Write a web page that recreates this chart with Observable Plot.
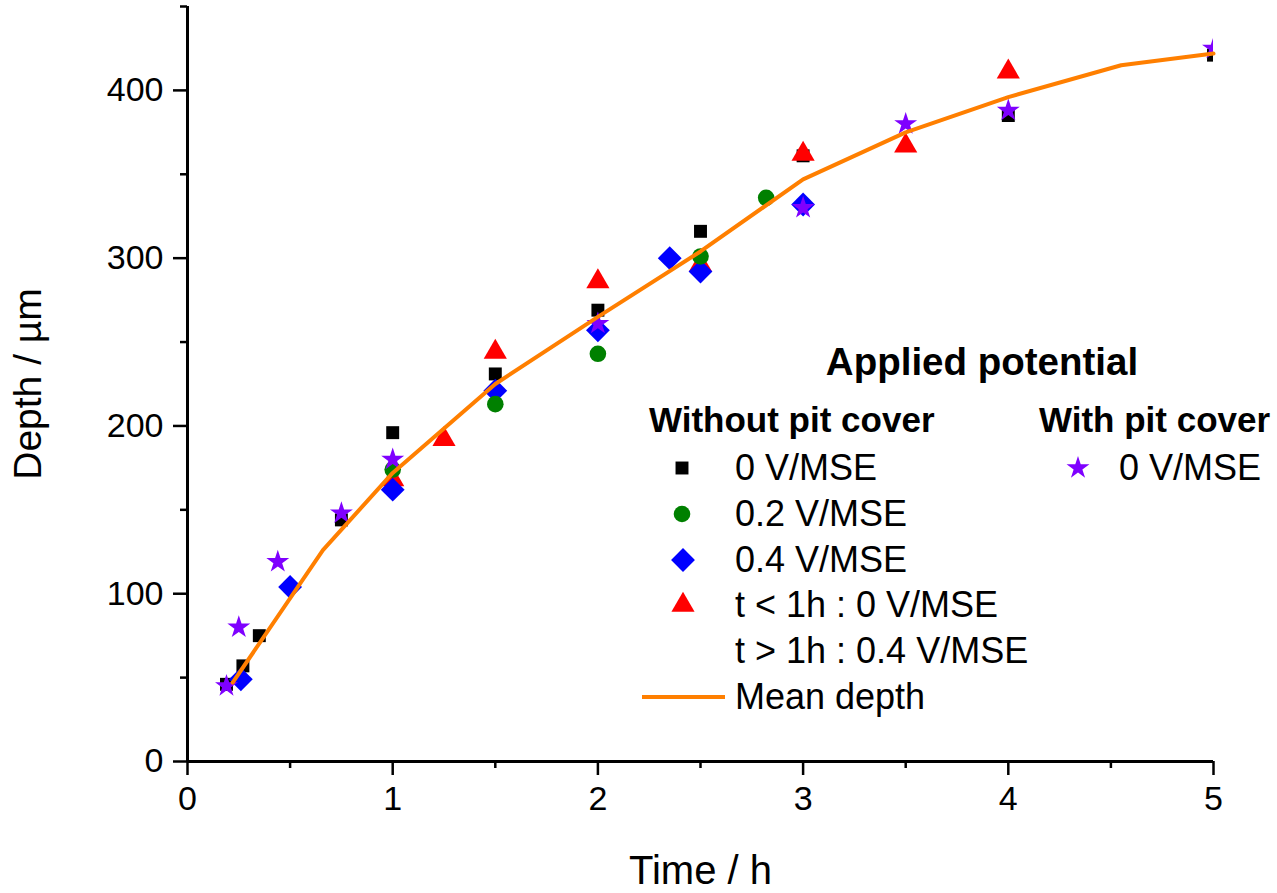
<!DOCTYPE html>
<html>
<head>
<meta charset="utf-8">
<script src="https://cdn.jsdelivr.net/npm/d3@7"></script>
<script src="https://cdn.jsdelivr.net/npm/@observablehq/plot@0.6"></script>
<style>
  html, body { margin: 0; padding: 0; background: #fff; }
  #wrap { position: relative; width: 1277px; height: 893px; font-family: "Liberation Sans", Arial, sans-serif; }
  #legend { position: absolute; left: 0; top: 0; width: 1277px; height: 893px; pointer-events: none; }
  .lg { position: absolute; white-space: nowrap; color: #000; line-height: 1; }
  .lg.b { font-weight: bold; }
  .sym { position: absolute; }
</style>
</head>
<body>
<div id="wrap"><div id="legend"></div></div>
<script>
// ---- Data ----
const sqTime  = [0.19, 0.27, 0.35, 0.75, 1.0, 1.5, 2.0, 2.5, 3.0, 4.0, 5.0];
const sqDepth = [46, 57, 75, 144, 196, 231, 269, 316, 361, 385, 421];

const ciTime  = [1.0, 1.5, 2.0, 2.5, 2.82];
const ciDepth = [174, 213, 243, 301, 336];

const diTime  = [0.26, 0.5, 1.0, 1.5, 2.0, 2.35, 2.5, 3.0];
const diDepth = [49, 104, 162, 221, 257, 300, 292, 332];

const trTime  = [1.0, 1.25, 1.5, 2.0, 2.5, 3.0, 3.5, 4.0];
const trDepth = [168, 192, 244, 286, 296, 362, 367, 411];

const stTime  = [0.19, 0.25, 0.44, 0.75, 1.0, 2.0, 3.0, 3.5, 4.0, 5.0];
const stDepth = [45, 80, 119, 148, 180, 261, 330, 380, 388, 425];

const meanTime  = [0.22, 0.66, 1.0, 1.5, 2.0, 2.5, 3.0, 3.5, 4.0, 4.55, 5.0];
const meanDepth = [47, 126, 172, 225, 265, 304, 347, 375, 396, 415, 422];

const xMajor = [0, 1, 2, 3, 4, 5];
const xMinor = [0.5, 1.5, 2.5, 3.5, 4.5];
const yMajor = [0, 100, 200, 300, 400];
const yMinor = [50, 150, 250, 350, 450];

const seriesLabels = ["0 V/MSE", "0.2 V/MSE", "0.4 V/MSE", "t < 1h : 0 V/MSE", "t > 1h : 0.4 V/MSE", "Mean depth"];
const coverLabel = "0 V/MSE";

const colors = {sq: "#000000", ci: "#008000", di: "#0000ff", tr: "#ff0000", st: "#7f00ff", line: "#ff7f00"};

const zip = (t, d) => t.map((v, i) => ({t: v, d: d[i]}));

const FONT = '"Liberation Sans", Arial, sans-serif';

const chart = Plot.plot({
  width: 1277,
  height: 893,
  marginLeft: 187,
  marginRight: 64,
  marginTop: 6,
  marginBottom: 132,
  style: {fontFamily: FONT, fontSize: "33px", color: "#000", background: "#fff"},
  x: {domain: [0, 5]},
  y: {domain: [0, 450]},
  marks: [
    Plot.axisY(yMajor, {tickSize: 14, tickPadding: 10, fontSize: 34, strokeWidth: 2.5, label: null}),
    Plot.axisY(yMinor, {tickSize: 7, tickFormat: () => "", strokeWidth: 2.5, label: null}),
    Plot.axisX(xMajor, {tickSize: 14, tickPadding: 10, fontSize: 34, strokeWidth: 2.5, tickFormat: d3.format("d"), label: null}),
    Plot.axisX(xMinor, {tickSize: 7, tickFormat: () => "", strokeWidth: 2.5, label: null}),
    Plot.axisY([], {label: "Depth / µm", labelAnchor: "center", labelOffset: 174, labelArrow: "none", fontSize: 39}),
    Plot.axisX([], {label: "Time / h", labelAnchor: "center", labelOffset: 122, labelArrow: "none", fontSize: 40}),
    Plot.ruleX([0], {stroke: "#000", strokeWidth: 3}),
    Plot.ruleY([0], {stroke: "#000", strokeWidth: 3}),
    Plot.dot(zip(sqTime, sqDepth), {x: "t", y: "d", symbol: "square", r: 7.3, fill: colors.sq, stroke: "none", clip: true}),
    Plot.dot(zip(trTime, trDepth), {x: "t", y: "d", symbol: "triangle", r: 8.6, fill: colors.tr, stroke: "none", clip: true}),
    Plot.dot(zip(diTime, diDepth), {x: "t", y: "d", symbol: "square", rotate: 45, r: 9.5, fill: colors.di, stroke: "none", clip: true}),
    Plot.dot(zip(ciTime, ciDepth), {x: "t", y: "d", symbol: "circle", r: 8.3, fill: colors.ci, stroke: "none", clip: true}),
    Plot.dot(zip(stTime, stDepth), {x: "t", y: "d", symbol: "star", r: 7.2, fill: colors.st, stroke: "none", clip: true}),
    Plot.line(zip(meanTime, meanDepth), {x: "t", y: "d", stroke: colors.line, strokeWidth: 4, strokeLinejoin: "round"})
  ]
});
document.getElementById("wrap").prepend(chart);

// ---- Legend (HTML overlay) ----
const legend = document.getElementById("legend");
function addText(txt, left, cy, size, bold, center) {
  const el = document.createElement("div");
  el.className = "lg" + (bold ? " b" : "");
  el.textContent = txt;
  el.style.fontSize = size + "px";
  el.style.top = (cy - size * 0.5) + "px";
  el.style.left = left + "px";
  if (center) el.style.transform = "translateX(-50%)";
  legend.appendChild(el);
}
function addSym(type, cx, cy, r, color, rotate) {
  const s = 40;
  const svg = d3.create("svg").attr("class", "sym").attr("width", s).attr("height", s)
    .style("left", (cx - s / 2) + "px").style("top", (cy - s / 2) + "px");
  svg.append("path")
    .attr("d", d3.symbol(type, Math.PI * r * r)())
    .attr("transform", `translate(${s / 2},${s / 2}) rotate(${rotate || 0})`)
    .attr("fill", color);
  legend.appendChild(svg.node());
}
addText("Applied potential", 982, 362, 38.5, true, true);
addText("Without pit cover", 649, 419, 35, true, false);
addText("With pit cover", 1039, 419, 35, true, false);
const rowY = [468, 514, 560, 605, 651, 697];
const tx = 735;
addSym(d3.symbolSquare, 682, rowY[0], 7.3, colors.sq);
addSym(d3.symbolCircle, 682, rowY[1], 8.3, colors.ci);
addSym(d3.symbolSquare, 683, rowY[2], 9.5, colors.di, 45);
addSym(d3.symbolTriangle, 683, rowY[3], 8.6, colors.tr);
seriesLabels.forEach((s, i) => addText(s, tx, rowY[i], 36, false, false));
const ln = document.createElement("div");
ln.style.cssText = `position:absolute;left:642px;top:${rowY[5] - 2}px;width:83px;height:4px;background:${colors.line}`;
legend.appendChild(ln);
addSym(d3.symbolStar, 1078, rowY[0], 7.2, colors.st);
addText(coverLabel, 1119, rowY[0], 36, false, false);
</script>
</body>
</html>
